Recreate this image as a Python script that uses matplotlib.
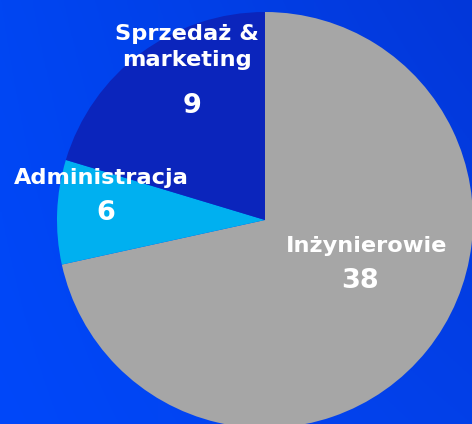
import numpy as np
import matplotlib.pyplot as plt
from matplotlib.colors import to_rgb

# data
labels = ["Inżynierowie", "Administracja", "Sprzedaż &\nmarketing"]
counts = [38, 6, 9]
# wedge sizes as drawn in the picture (the arcs don't follow the counts exactly)
shares = [38, 4.3, 10.8]
colors = ["#A6A6A6", "#00B0F0", "#0B25BC"]

W, H = 472, 424
fig = plt.figure(figsize=(W / 100, H / 100), dpi=100)

# background gradient
bg = fig.add_axes([0, 0, 1, 1])
corners = np.array([[to_rgb("#0048FA"), to_rgb("#0340E8")],
                    [to_rgb("#0046F2"), to_rgb("#0337D9")]])  # [bottom, top] x [left, right]
u = np.linspace(0, 1, 200)[None, :, None]
v = np.linspace(0, 1, 200)[:, None, None]
grad = (corners[0, 0] * (1 - u) * (1 - v) + corners[0, 1] * u * (1 - v)
        + corners[1, 0] * (1 - u) * v + corners[1, 1] * u * v)
bg.imshow(grad, origin="lower", extent=[0, 1, 0, 1], aspect="auto")
bg.set_axis_off()

ax = fig.add_axes([0, 0, 1, 1])
ax.pie(shares, colors=colors, startangle=90, counterclock=False,
       center=(265, H - 220), radius=208, wedgeprops=dict(linewidth=0))
# pie resets the limits, so set them afterwards
ax.set_xlim(0, W)
ax.set_ylim(0, H)
ax.set_aspect("equal")
ax.set_axis_off()
ax.patch.set_visible(False)

font = dict(color="white", fontweight="bold", ha="center", va="center",
            family="DejaVu Sans")
# label positions (pixel coords, y from top)
pos_name = [(367, 246), (101, 178), (187, 47)]
pos_num = [(360, 281), (106, 213), (192, 106)]
for name, n, (xn, yn), (xv, yv) in zip(labels, counts, pos_name, pos_num):
    ax.text(xn, H - yn, name, fontsize=16.2, linespacing=1.38, **font)
    ax.text(xv, H - yv, str(n), fontsize=19.5, **font)

fig.savefig("out.png", dpi=100)
